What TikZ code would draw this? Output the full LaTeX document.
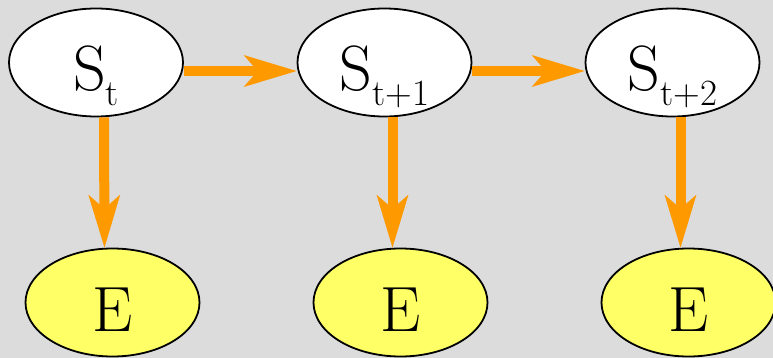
\documentclass[tikz,border=0pt]{standalone}
\usetikzlibrary{arrows.meta,shapes.geometric}
\definecolor{bggray}{HTML}{DCDCDC}
\definecolor{floworange}{HTML}{FF9900}
\definecolor{evidyellow}{HTML}{FFFF66}

\newcommand{\sub}[1]{\raisebox{-15pt}{\fontsize{37}{37}\selectfont #1}}

\begin{document}
\begin{tikzpicture}[x=1pt, y=-1pt,
      every node/.append style={ellipse, draw=black, line width=1.8pt,
        minimum width=174pt, minimum height=108pt, inner sep=0pt,
        text height=57pt, text depth=0pt, font=\rmfamily\fontsize{64}{64}\selectfont},
      flow/.style={draw=floworange, line width=10pt,
        -{Stealth[length=53pt, width=32pt, inset=14pt, line width=0pt]}}]
    \tikzstyle{state} = [fill=white]
    \tikzstyle{evid} = [fill=evidyellow]
    \fill[bggray] (0,0) rectangle (773,358);
    \useasboundingbox (0,0) rectangle (773,358);
    % hidden states
    \node (s0) [state] at (96,62.5) {S\sub{t}};
    \node (s1) [state] at (384.5,62.5) {S\sub{t+1}};
    \node (s2) [state] at (672.5,62.5) {S\sub{t+2}};
    % evidence
    \node (e0) [evid] at (112.5,302.5) {E};
    \node (e1) [evid] at (400.5,302.5) {E};
    \node (e2) [evid] at (688.5,302.5) {E};
    % transitions
    \draw[flow] ([yshift=-8.5pt]s0.east) -- ([yshift=-8.5pt]s1.west);
    \draw[flow] ([yshift=-8.5pt]s1.east) -- ([yshift=-8.5pt]s2.west);
    % emissions
    \draw[flow] ([xshift=8pt]s0.south) -- ([xshift=-8pt]e0.north);
    \draw[flow] ([xshift=8pt]s1.south) -- ([xshift=-8pt]e1.north);
    \draw[flow] ([xshift=8pt]s2.south) -- ([xshift=-8pt]e2.north);
\end{tikzpicture}
\end{document}
